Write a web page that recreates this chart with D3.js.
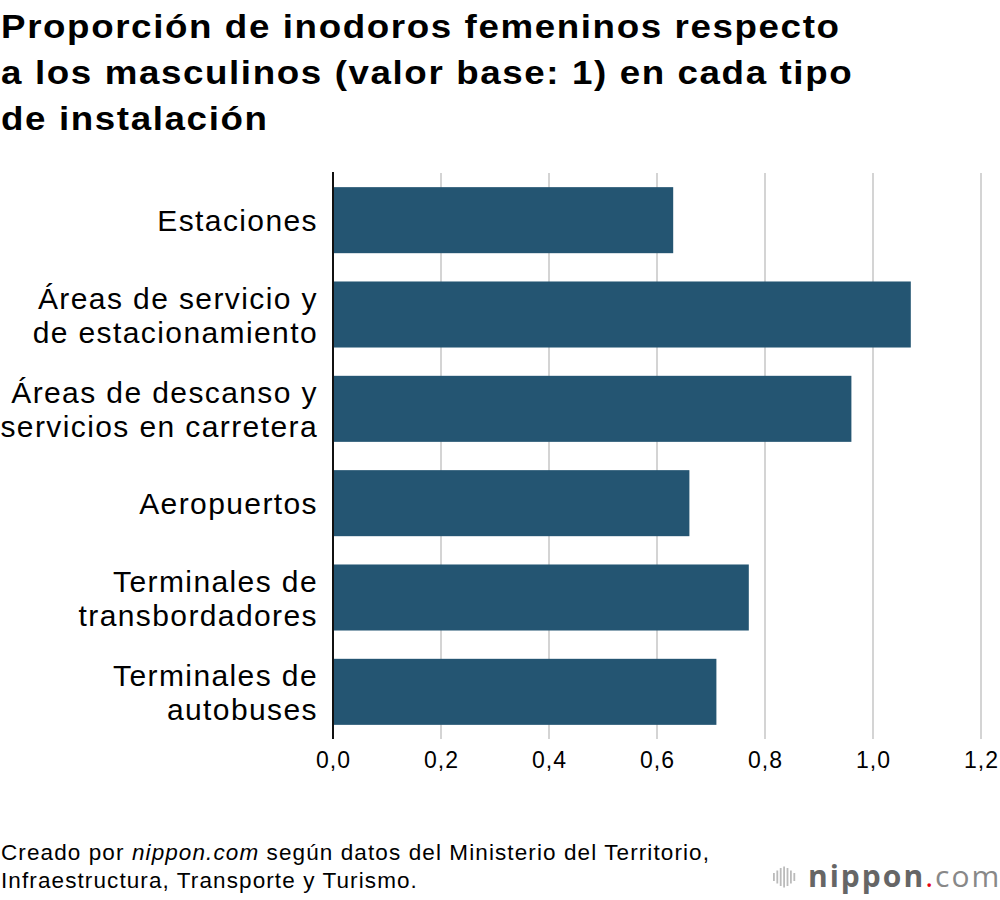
<!DOCTYPE html>
<html>
<head>
<meta charset="utf-8">
<script src="https://cdn.jsdelivr.net/npm/d3@7"></script>
<style>
  body { margin: 0; background: #fff; }
  text { font-family: "Liberation Sans", Arial, sans-serif; fill: #000; }
</style>
</head>
<body>
<script>
// chart data
var categories = [
  ["Estaciones"],
  ["Áreas de servicio y", "de estacionamiento"],
  ["Áreas de descanso y", "servicios en carretera"],
  ["Aeropuertos"],
  ["Terminales de", "transbordadores"],
  ["Terminales de", "autobuses"]
];
var values = [0.63, 1.07, 0.96, 0.66, 0.77, 0.71];
var ticks = [0, 0.2, 0.4, 0.6, 0.8, 1.0, 1.2];
var titleLines = [
  "Proporción de inodoros femeninos respecto",
  "a los masculinos (valor base: 1) en cada tipo",
  "de instalación"
];

/***** Configuration *****/
var margin = { top: 173, left: 333, right: 19, bottom: 161 };
var width = 1000 - margin.left - margin.right;
var height = 900 - margin.top - margin.bottom;

var svg = d3.select("body").append("svg")
  .attr("width", 1000)
  .attr("height", 900);

/***** Title *****/
// glyphs a little wider than Arial, so stretch slightly
svg.append("g").attr("transform", "scale(1.08,1)")
  .selectAll("text")
  .data(titleLines)
  .join("text")
  .attr("x", 1)
  .attr("y", (d, i) => 38 + i * 46)
  .style("font-size", "34px")
  .style("font-weight", "bold")
  .style("letter-spacing", "1.5px")
  .text(d => d);

/***** Scales *****/
var x = d3.scaleLinear().domain([0, 1.2]).range([0, 648]);
var y = d3.scaleBand().domain(d3.range(categories.length))
  .range([0, height]).paddingInner(0.3).paddingOuter(0.15);

var g = svg.append("g")
  .attr("transform", "translate(" + margin.left + "," + margin.top + ")");

// grid lines
g.append("g").selectAll("line")
  .data(ticks.slice(1))
  .join("line")
  .attr("x1", d => x(d)).attr("x2", d => x(d))
  .attr("y1", 0).attr("y2", height)
  .attr("stroke", "#d4d4d4")
  .attr("stroke-width", 2);

// bars
g.append("g").selectAll("rect")
  .data(values)
  .join("rect")
  .attr("x", 0)
  .attr("y", (d, i) => y(i))
  .attr("width", d => x(d))
  .attr("height", y.bandwidth())
  .attr("fill", "#245572");

// y axis line
g.append("line")
  .attr("x1", 0).attr("x2", 0)
  .attr("y1", -1).attr("y2", height)
  .attr("stroke", "#111")
  .attr("stroke-width", 2);

// x axis
var fmt = d => d3.format(".1f")(d).replace(".", ",");
var xAxis = d3.axisBottom(x).tickValues(ticks).tickFormat(fmt).tickSize(0).tickPadding(13);
var ax = g.append("g").attr("transform", "translate(0," + height + ")").call(xAxis);
ax.select(".domain").remove();
ax.selectAll("text")
  .attr("fill", "#000")
  .style("font-size", "23px")
  .style("letter-spacing", "1px")
  .style("font-family", "Liberation Sans, Arial, sans-serif");

// category labels
var labels = g.append("g").selectAll("text")
  .data(categories)
  .join("text")
  .attr("text-anchor", "end")
  .style("font-size", "30px")
  .style("letter-spacing", "1.4px");
labels.each(function (lines, i) {
  var cy = y(i) + y.bandwidth() / 2;
  var lh = 34;
  var start = cy - (lines.length - 1) * lh / 2 + 11;
  d3.select(this).selectAll("tspan")
    .data(lines)
    .join("tspan")
    .attr("x", -15)
    .attr("y", (d, k) => start + k * lh)
    .text(d => d);
});

/***** Footer *****/
var foot = svg.append("text")
  .attr("x", 1).attr("y", 860)
  .style("font-size", "22.5px")
  .style("letter-spacing", "1.1px");
foot.append("tspan").text("Creado por ");
foot.append("tspan").style("font-style", "italic").text("nippon.com");
foot.append("tspan").text(" según datos del Ministerio del Territorio,");
svg.append("text")
  .attr("x", 1).attr("y", 888)
  .style("font-size", "22.5px")
  .style("letter-spacing", "1.1px")
  .text("Infraestructura, Transporte y Turismo.");

// logo
var logo = svg.append("g").attr("transform", "translate(773,887)");
var bars = [[0, 8], [3.4, 13], [6.8, 18], [10.2, 21], [13.6, 18], [17, 13], [20.4, 8]];
logo.selectAll("rect")
  .data(bars)
  .join("rect")
  .attr("x", d => d[0])
  .attr("y", d => -10 - d[1] / 2)
  .attr("width", 1.8)
  .attr("height", d => d[1])
  .attr("fill", "#bbb");
var lt = logo.append("text").attr("x", 35).attr("y", 0)
  .style("font-size", "30px")
  .style("font-family", "'Open Sans', sans-serif")
  .style("letter-spacing", "2px");
lt.append("tspan").style("font-weight", "bold").style("fill", "#666").text("nippon");
lt.append("tspan").style("fill", "#e60012").text(".");
lt.append("tspan").style("fill", "#888").text("com");
</script>
</body>
</html>
